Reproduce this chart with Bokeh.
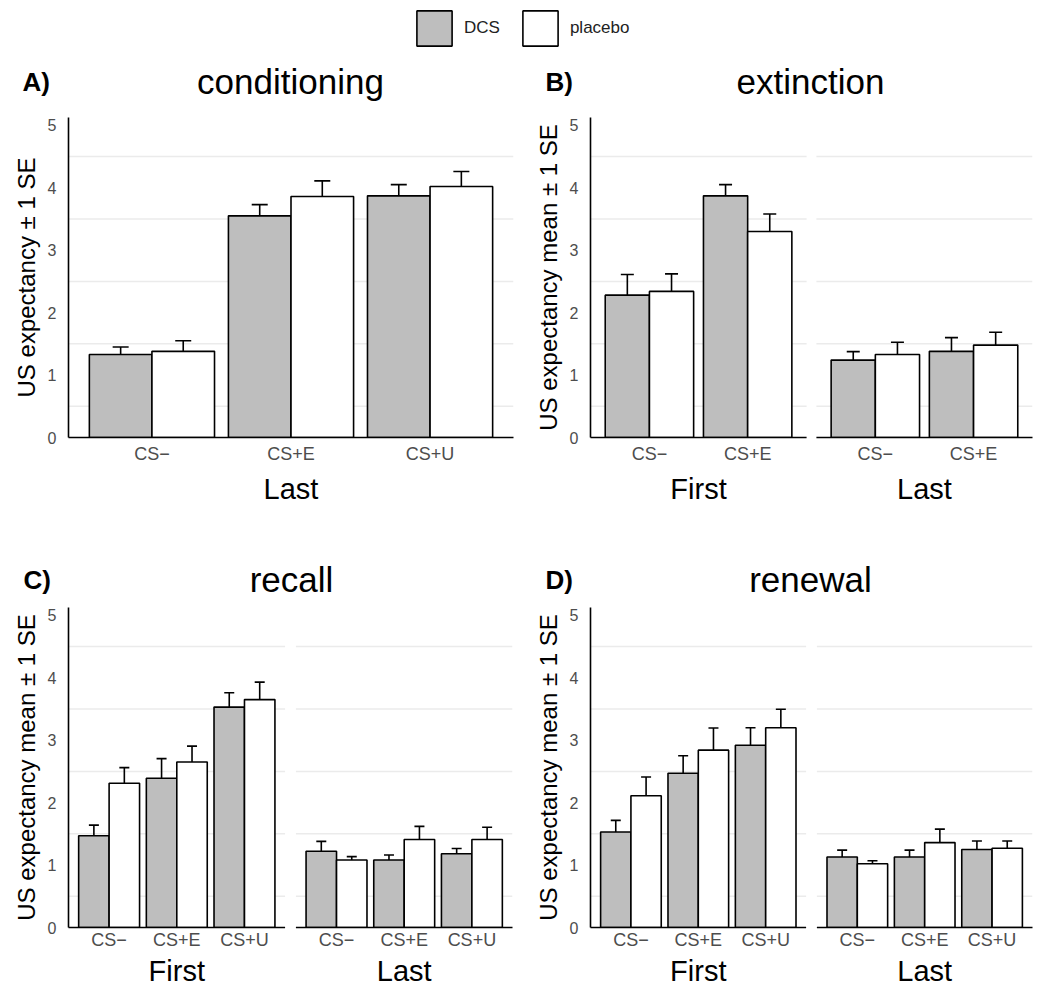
from bokeh.plotting import figure
from bokeh.layouts import row, column
from bokeh.models import (ColumnDataSource, FactorRange, Range1d, FixedTicker,
                          Whisker, TeeHead, Label, Legend, LegendItem)
from bokeh.transform import dodge
from bokeh.embed import file_html
from bokeh.resources import INLINE

FONT = "Liberation Sans"
DCS_COLOR = "#bebebe"
PLC_COLOR = "#ffffff"
GRID_COLOR = "#ebebeb"
TICK_COLOR = "#4d4d4d"

# ---------------- data ----------------
groups = ["DCS", "placebo"]
cats3 = ["CS\u2212", "CS+E", "CS+U"]
cats2 = ["CS\u2212", "CS+E"]
phases = ["First", "Last"]
y_ticks = [0, 1, 2, 3, 4, 5]
grid_values = [0.5, 1.5, 2.5, 3.5, 4.5]

# A) conditioning - Last
cond_last_dcs = [1.33, 3.55, 3.87]
cond_last_dcs_se = [0.12, 0.18, 0.18]
cond_last_plc = [1.38, 3.86, 4.02]
cond_last_plc_se = [0.17, 0.25, 0.24]

# B) extinction - First / Last
ext_first_dcs = [2.28, 3.87]
ext_first_dcs_se = [0.33, 0.18]
ext_first_plc = [2.34, 3.30]
ext_first_plc_se = [0.28, 0.28]
ext_last_dcs = [1.24, 1.38]
ext_last_dcs_se = [0.135, 0.22]
ext_last_plc = [1.33, 1.48]
ext_last_plc_se = [0.195, 0.205]

# C) recall - First / Last
rec_first_dcs = [1.47, 2.39, 3.53]
rec_first_dcs_se = [0.17, 0.315, 0.23]
rec_first_plc = [2.31, 2.65, 3.65]
rec_first_plc_se = [0.25, 0.255, 0.28]
rec_last_dcs = [1.22, 1.08, 1.18]
rec_last_dcs_se = [0.16, 0.08, 0.085]
rec_last_plc = [1.08, 1.41, 1.41]
rec_last_plc_se = [0.055, 0.21, 0.195]

# D) renewal - First / Last
ren_first_dcs = [1.53, 2.47, 2.92]
ren_first_dcs_se = [0.185, 0.28, 0.28]
ren_first_plc = [2.11, 2.84, 3.20]
ren_first_plc_se = [0.30, 0.355, 0.295]
ren_last_dcs = [1.13, 1.13, 1.25]
ren_last_dcs_se = [0.11, 0.11, 0.135]
ren_last_plc = [1.02, 1.36, 1.27]
ren_last_plc_se = [0.05, 0.215, 0.115]

ylabel_a = "US expectancy \u00b1 1 SE"
ylabel_bcd = "US expectancy mean \u00b1 1 SE"

FRAME_H = 320
BAR_W = 0.45
OFF = 0.225
EXPAND = 0.6


def panel(facets, width, bl, br, bt, bb, head, gpad, ylabel, tick_sd):
    xs, dcs, dse, plc, pse = [], [], [], [], []
    for grp, cats, d, ds, p_, ps in facets:
        for i, c in enumerate(cats):
            xs.append((grp, c))
            dcs.append(d[i]); dse.append(ds[i]); plc.append(p_[i]); pse.append(ps[i])
    src = ColumnDataSource(dict(
        x=xs, dcs=dcs, plc=plc,
        dcs_lo=[m - s for m, s in zip(dcs, dse)],
        dcs_hi=[m + s for m, s in zip(dcs, dse)],
        plc_lo=[m - s for m, s in zip(plc, pse)],
        plc_hi=[m + s for m, s in zip(plc, pse)],
    ))
    xr = FactorRange(factors=xs, group_padding=gpad, range_padding=0.1,
                     range_padding_units="absolute")
    p = figure(x_range=xr, y_range=Range1d(0, 5.125), width=width,
               height=bt + FRAME_H + bb, title=None,
               min_border_left=bl, min_border_right=br,
               min_border_top=bt, min_border_bottom=bb,
               toolbar_location=None, output_backend="svg")
    p.outline_line_color = None
    p.xgrid.visible = False
    p.ygrid.visible = False

    # facet-wise grid lines and x axis lines (ggplot facets)
    gx0, gx1, gy = [], [], []
    ax0, ax1 = [], []
    for grp, cats, *_ in facets:
        left = (grp, cats[0], -EXPAND)
        right = (grp, cats[-1], EXPAND)
        ax0.append(left); ax1.append(right)
        for g in grid_values:
            gx0.append(left); gx1.append(right); gy.append(g)
    p.segment(x0=gx0, x1=gx1, y0=gy, y1=gy, line_color=GRID_COLOR,
              line_width=1.5, level="underlay")

    p.vbar(x=dodge("x", -OFF, range=xr), top="dcs", width=BAR_W, source=src,
           fill_color=DCS_COLOR, line_color="black", line_width=1.6)
    p.vbar(x=dodge("x", OFF, range=xr), top="plc", width=BAR_W, source=src,
           fill_color=PLC_COLOR, line_color="black", line_width=1.6)
    for off, lo, hi in [(-OFF, "dcs_lo", "dcs_hi"), (OFF, "plc_lo", "plc_hi")]:
        p.add_layout(Whisker(
            source=src, base=dodge("x", off, range=xr), upper=hi, lower=lo,
            line_color="black", line_width=1.6,
            upper_head=TeeHead(size=head, line_color="black", line_width=1.6),
            lower_head=TeeHead(size=head, line_color="black", line_width=1.6)))

    zero = [0] * len(ax0)
    p.segment(x0=ax0, x1=ax1, y0=zero, y1=zero, line_color="black",
              line_width=1.6, level="overlay")

    xa = p.xaxis[0]
    xa.axis_line_color = None
    xa.major_tick_line_color = None
    xa.major_tick_out = 0
    xa.minor_tick_line_color = None
    xa.separator_line_color = None
    xa.major_label_text_font = FONT
    xa.major_label_text_font_size = "18px"
    xa.major_label_text_color = TICK_COLOR
    xa.major_label_standoff = tick_sd
    xa.group_text_font = FONT
    xa.group_text_font_size = "29px"
    xa.group_text_font_style = "normal"
    xa.group_text_color = "black"

    ya = p.yaxis[0]
    ya.ticker = FixedTicker(ticks=y_ticks)
    ya.axis_line_color = "black"
    ya.axis_line_width = 1.6
    ya.major_tick_line_color = None
    ya.major_tick_out = 0
    ya.minor_tick_line_color = None
    ya.major_label_text_font = FONT
    ya.major_label_text_font_size = "16px"
    ya.major_label_text_color = TICK_COLOR
    ya.major_label_standoff = 12
    ya.axis_label = ylabel
    ya.axis_label_text_font = FONT
    ya.axis_label_text_font_size = "24px"
    ya.axis_label_text_font_style = "normal"
    ya.axis_label_text_color = "black"
    ya.axis_label_standoff = 5
    return p


def strip(width, height, letter, title, letter_x, title_x, base_y):
    p = figure(width=width, height=height, toolbar_location=None, title=None,
               output_backend="svg", x_axis_location=None, y_axis_location=None,
               min_border=0, x_range=(0, 1), y_range=(0, 1))
    p.outline_line_color = None
    p.grid.visible = False
    p.add_layout(Label(x=letter_x, y=base_y, x_units="screen", y_units="screen",
                       text=letter, text_font=FONT, text_font_size="26px",
                       text_font_style="bold", text_baseline="alphabetic",
                       text_color="black"))
    p.add_layout(Label(x=title_x, y=base_y, x_units="screen", y_units="screen",
                       text=title, text_font=FONT, text_font_size="35px",
                       text_align="center", text_baseline="alphabetic",
                       text_color="black"))
    return p


# ---------------- legend strip ----------------
leg = figure(width=1042, height=58, toolbar_location=None, output_backend="svg",
             x_axis_location=None, y_axis_location=None, min_border=0, title=None,
             x_range=FactorRange(factors=groups), y_range=Range1d(0, 5.125))
leg.outline_line_color = None
leg.grid.visible = False
r_dcs = leg.vbar(x=groups[:1], top=cond_last_dcs[:1], width=0.9,
                 fill_color=DCS_COLOR, line_color="black", line_width=1.6,
                 visible=False)
r_plc = leg.vbar(x=groups[1:], top=cond_last_plc[:1], width=0.9,
                 fill_color=PLC_COLOR, line_color="black", line_width=1.6,
                 visible=False)
legend = Legend(items=[LegendItem(label=groups[0], renderers=[r_dcs]),
                       LegendItem(label=groups[1], renderers=[r_plc])],
                orientation="horizontal", location=(412, 8),
                glyph_width=44, glyph_height=44, label_standoff=8, spacing=18,
                padding=0, margin=0, border_line_color=None,
                background_fill_alpha=0, inactive_fill_alpha=0,
                label_text_font=FONT,
                label_text_font_size="17px", label_text_color="#222222")
leg.add_layout(legend)

# ---------------- panels ----------------
stripA = strip(520, 50, "A)", "conditioning", 22, 290, 27)
figA = panel([(phases[1], cats3, cond_last_dcs, cond_last_dcs_se,
               cond_last_plc, cond_last_plc_se)],
             520, 68, 7, 9, 116, 16, 0.0, ylabel_a, 6)

stripB = strip(522, 50, "B)", "extinction", 25, 290, 27)
figB = panel([(phases[0], cats2, ext_first_dcs, ext_first_dcs_se,
               ext_first_plc, ext_first_plc_se),
              (phases[1], cats2, ext_last_dcs, ext_last_dcs_se,
               ext_last_plc, ext_last_plc_se)],
             522, 70, 10, 9, 116, 13, 0.3, ylabel_bcd, 6)

stripC = strip(520, 45, "C)", "recall", 23, 291, 19)
figC = panel([(phases[0], cats3, rec_first_dcs, rec_first_dcs_se,
               rec_first_plc, rec_first_plc_se),
              (phases[1], cats3, rec_last_dcs, rec_last_dcs_se,
               rec_last_plc, rec_last_plc_se)],
             520, 68, 8, 9, 66, 10, 0.36, ylabel_bcd, 2)

stripD = strip(522, 45, "D)", "renewal", 25, 290, 19)
figD = panel([(phases[0], cats3, ren_first_dcs, ren_first_dcs_se,
               ren_first_plc, ren_first_plc_se),
              (phases[1], cats3, ren_last_dcs, ren_last_dcs_se,
               ren_last_plc, ren_last_plc_se)],
             522, 70, 10, 9, 66, 10, 0.36, ylabel_bcd, 2)

layout = column(
    leg,
    row(column(stripA, row(figA)), column(stripB, row(figB))),
    row(column(stripC, row(figC)), column(stripD, row(figD))),
)

open("out.html", "w").write(file_html(layout, INLINE))
